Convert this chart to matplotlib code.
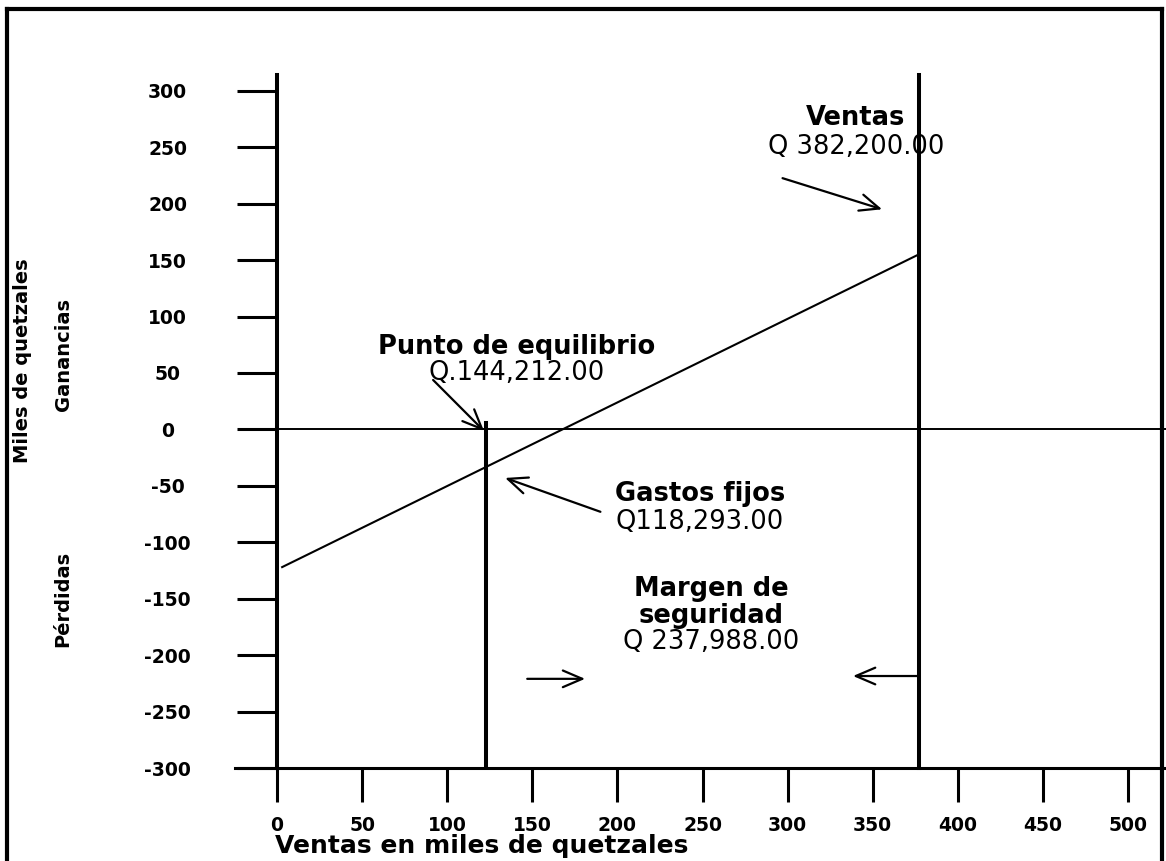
import numpy as np
import matplotlib
matplotlib.use("Agg")
import matplotlib.pyplot as plt
from matplotlib.lines import Line2D

# valores (miles de quetzales)
x_ticks = list(range(0, 501, 50))
y_ticks = list(range(-300, 301, 50))
recta_x = [3, 377]          # linea de resultados
recta_y = [-122, 155]
ventas_x = 377              # linea de ventas
equilibrio_x = 123          # punto de equilibrio
equilibrio_top = 6

ventas_txt = ["Ventas", "Q 382,200.00"]
equilibrio_txt = ["Punto de equilibrio", "Q.144,212.00"]
gastos_txt = ["Gastos fijos", "Q118,293.00"]
margen_txt = ["Margen de", "seguridad", "Q 237,988.00"]

W, H = 1166, 861
fig = plt.figure(figsize=(W / 100, H / 100), dpi=100)
ax = fig.add_axes([235 / W, (H - 768) / H, 931 / W, 693 / H])
ax.set_xlim(-24.7, 522.3)
ax.set_ylim(-300, 314)

# ejes
ax.spines["top"].set_visible(False)
ax.spines["right"].set_visible(False)
ax.spines["left"].set_position(("data", 0))
ax.spines["left"].set_linewidth(2.9)
ax.spines["bottom"].set_linewidth(2.2)
ax.set_xticks(x_ticks)
ax.set_yticks(y_ticks)
ax.set_xticklabels([str(v) for v in x_ticks])
ax.set_yticklabels([str(v) for v in y_ticks])
ax.tick_params(axis="y", direction="out", length=28.8, width=2.2, pad=50,
               labelsize=13.5)
ax.tick_params(axis="x", direction="out", length=24.5, width=2.2, pad=10,
               labelsize=13.5)
for lab in ax.get_yticklabels():
    lab.set_ha("center")
    lab.set_fontweight("bold")
for lab in ax.get_xticklabels():
    lab.set_fontweight("bold")

# lineas
ax.plot([0, 522.3], [0, 0], color="black", lw=1.4, clip_on=False)
ax.plot(recta_x, recta_y, color="black", lw=1.5)
ax.plot([ventas_x, ventas_x], [-300, 314], color="black", lw=2.9, clip_on=False)
ax.plot([equilibrio_x, equilibrio_x], [-300, equilibrio_top], color="black", lw=2.9)

# textos
def bloque(lines, x, ys, bold_rows, size=18.5):
    for t, y, b in zip(lines, ys, bold_rows):
        ax.text(x, y, t, ha="center", va="center", fontsize=size,
                fontweight="bold" if b else "normal")

bloque(ventas_txt, 340, [276, 250], [True, False])
bloque(equilibrio_txt, 141, [73, 50], [True, False])
bloque(gastos_txt, 248.5, [-57, -82], [True, False])
bloque(margen_txt, 255, [-141, -165, -188], [True, True, False])

ap = dict(arrowstyle="->,head_length=0.7,head_width=0.3", lw=1.6,
          color="black", mutation_scale=20, shrinkA=0, shrinkB=0)
ax.annotate("", xy=(355.5, 195), xytext=(297, 222.6), arrowprops=ap)
ax.annotate("", xy=(121.6, -1.4), xytext=(91.7, 43.8), arrowprops=ap)
ax.annotate("", xy=(134, -43), xytext=(190, -73), arrowprops=ap)
ax.annotate("", xy=(181, -221), xytext=(147, -221), arrowprops=ap)
ax.annotate("", xy=(338.4, -218.5), xytext=(376.6, -218.5), arrowprops=ap)

ax.set_xlabel("Ventas en miles de quetzales", fontsize=18, fontweight="bold",
              va="center")
ax.xaxis.set_label_coords((482 - 235) / 931, -(846 - 768) / 693)

fig.text(23 / W, 1 - 361 / H, "Miles de quetzales", rotation=90, fontsize=14,
         fontweight="bold", ha="center", va="center")
fig.text(63 / W, 1 - 355 / H, "Ganancias", rotation=90, fontsize=14,
         fontweight="bold", ha="center", va="center")
fig.text(63 / W, 1 - 599 / H, "Pérdidas", rotation=90, fontsize=14,
         fontweight="bold", ha="center", va="center")

# marco exterior
for xs, ys in [([7, 7], [9, 870]), ([1162, 1162], [9, 870]), ([7, 1162], [9, 9])]:
    fig.add_artist(Line2D([x / W for x in xs], [1 - y / H for y in ys],
                          transform=fig.transFigure, color="black", lw=3))

fig.savefig("out.png", dpi=100)
